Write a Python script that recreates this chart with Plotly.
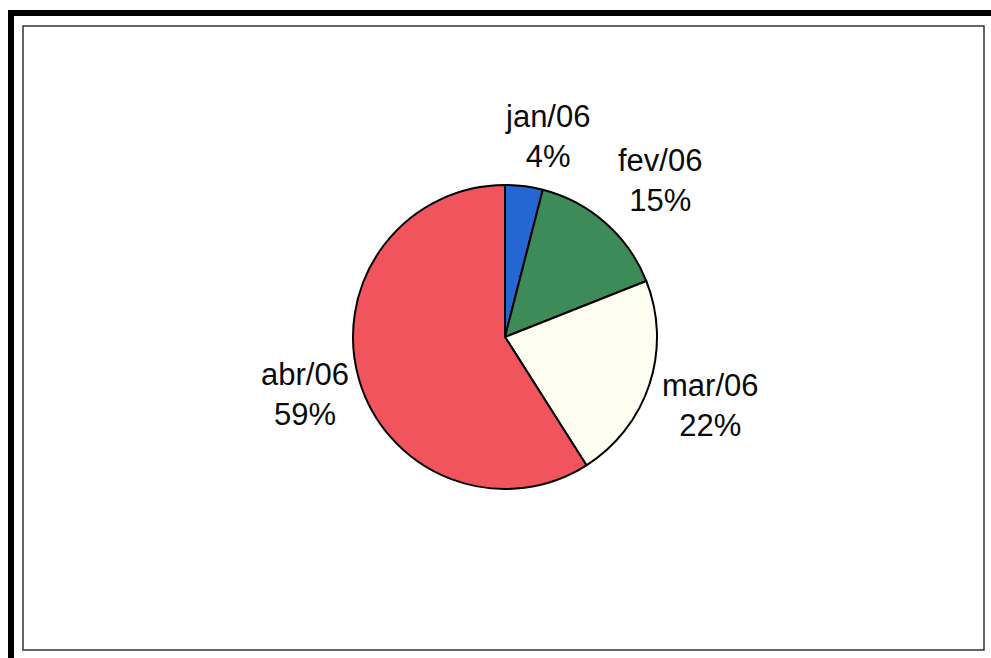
import math
import plotly.graph_objects as go

# Share of the total per month
months = ["jan/06", "fev/06", "mar/06", "abr/06"]
shares = [4, 15, 22, 59]
slice_colors = ["#2466d2", "#3d8b58", "#fefff0", "#f1545c"]

W, H = 991, 658
CX, CY, R = 505, 337, 152  # pie centre and radius in pixels

# label block centres (pixels from top-left)
label_xy = [(547, 136), (660, 180), (710, 405), (305, 394)]

fig = go.Figure(go.Pie(
    labels=months,
    values=shares,
    sort=False,
    direction="clockwise",
    rotation=0,
    textinfo="none",
    hoverinfo="label+percent",
    marker=dict(colors=slice_colors, line=dict(color="#000000", width=2)),
    domain=dict(x=[(CX - R) / W, (CX + R) / W],
                y=[(H - CY - R) / H, (H - CY + R) / H]),
    showlegend=False,
))

total = sum(shares)
annotations = []
for name, val, (lx, ly) in zip(months, shares, label_xy):
    annotations.append(dict(
        x=lx / W, y=1 - ly / H, xref="paper", yref="paper",
        text=f"{name}<br>{round(100 * val / total)}%",
        showarrow=False, xanchor="center", yanchor="middle",
        font=dict(family="Liberation Sans, Arial, sans-serif", size=31, color="#0a0a0a"),
    ))

def px_rect(x0, y0, x1, y1, **kw):
    return dict(type="rect", xref="paper", yref="paper",
                x0=x0 / W, x1=x1 / W, y0=1 - y1 / H, y1=1 - y0 / H, **kw)

shapes = [
    # heavy frame on the top and left edges
    px_rect(8, 10, W, 16, fillcolor="#000000", line=dict(width=0)),
    px_rect(8, 10, 14, H, fillcolor="#000000", line=dict(width=0)),
    # thin inner chart-area border
    px_rect(23, 26, 984, 650, fillcolor="rgba(0,0,0,0)", line=dict(color="#333333", width=1.5)),
]

fig.update_layout(
    width=W, height=H,
    margin=dict(l=0, r=0, t=0, b=0),
    paper_bgcolor="#ffffff",
    plot_bgcolor="#ffffff",
    annotations=annotations,
    shapes=shapes,
)

fig.write_html("out.html")
